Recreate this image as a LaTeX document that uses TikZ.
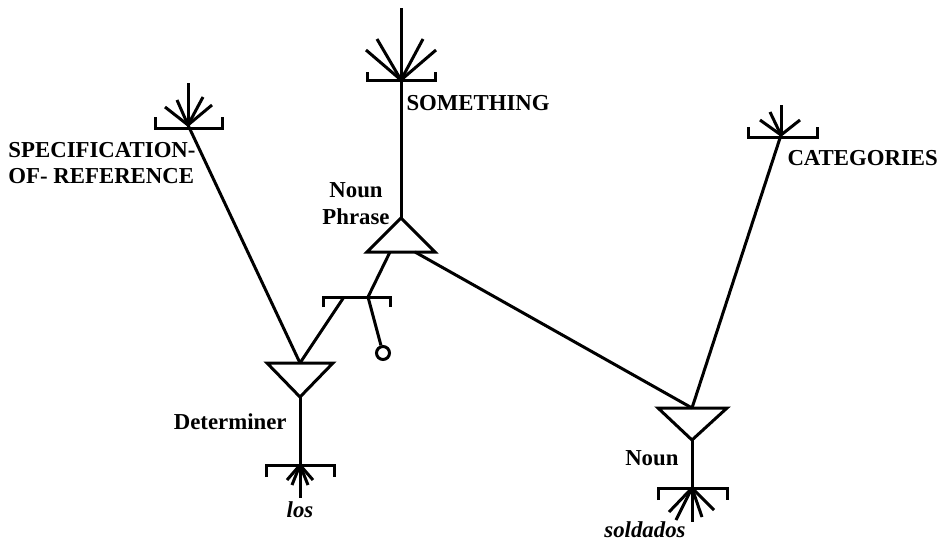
\documentclass[tikz,border=0pt]{standalone}
\usepackage{fontspec}
\setmainfont{Liberation Serif}
\begin{document}
\begin{tikzpicture}[x=0.5pt, y=-0.5pt, line width=1.5pt,
        lbl/.style={font=\bfseries\fontsize{11.4}{13.5}\selectfont, inner sep=0pt},
        word/.style={font=\bfseries\itshape\fontsize{11.4}{13.5}\selectfont, inner sep=0pt}]
    \useasboundingbox (0,0) rectangle (937,541);
    % fan centres
    \coordinate (something) at (401,80);
    \coordinate (spec) at (188,125);
    \coordinate (categ) at (781,135);
    \coordinate (los) at (300,465);
    \coordinate (soldados) at (692,488);
    % triangle corners
    \coordinate (np) at (401,218);
    \coordinate (npA) at (390,252);
    \coordinate (npB) at (415,252);
    \coordinate (det) at (300,363);
    \coordinate (detTip) at (300,397);
    \coordinate (noun) at (692,408);
    \coordinate (nounTip) at (692,440);
    \coordinate (top) at (401,8);
    % bracket under the noun phrase
    \coordinate (jl) at (344,297);
    \coordinate (jr) at (368,297);
    \node[circle, draw, minimum size=6.5pt, inner sep=0pt] (stop) at (383,353) {};

    \draw (np) -- (435,252) -- (367,252) -- cycle;
    \draw (267,363) -- (333,363) -- (detTip) -- cycle;
    \draw (658,408) -- (727,408) -- (nounTip) -- cycle;
    \draw (323,307) -- (323,297) -- (390,297) -- (390,307);

    \draw (np) -- (top);
    \draw (spec) -- (det);
    \draw (categ) -- (noun);
    \draw (npB) -- (noun);
    \draw (npA) -- (jr);
    \draw (jl) -- (det);
    \draw (jr) -- (stop);
    \draw (detTip) -- (los);
    \draw (nounTip) -- (soldados);

    % fans
    \draw (367,72) -- (367,80) -- (435,80) -- (435,72);
    \foreach \dx/\dy in {-35/-30,-24/-41,22/-41,35/-30}
        \draw (something) -- ++(\dx,\dy);
    \draw (155,117) -- (155,128) -- (222,128) -- (222,117);
    \foreach \dx/\dy in {-23/-18,-11/-25,0/-42,15/-28,24/-20}
        \draw (spec) -- ++(\dx,\dy);
    \draw (748,127) -- (748,137) -- (817,137) -- (817,127);
    \foreach \dx/\dy in {-21/-15,-11/-23,0/-30,19/-15}
        \draw (categ) -- ++(\dx,\dy);
    \draw (266,477) -- (266,465) -- (334,465) -- (334,477);
    \foreach \dx/\dy in {-13/15,-8/20,0/33,8/20,13/15}
        \draw (los) -- ++(\dx,\dy);
    \draw (658,500) -- (658,488) -- (727,488) -- (727,500);
    \foreach \dx/\dy in {-23/24,-16/32,0/34,10/29,22/22}
        \draw (soldados) -- ++(\dx,\dy);

    % labels
    \node[lbl, anchor=base west] (somethingL) at (405,110) {SOMETHING};
    \node[lbl, anchor=base west] (specL) at (7,157) {SPECIFICATION-};
    \node[lbl, anchor=base west] (refL) at (7,183) {OF- REFERENCE};
    \node[lbl, anchor=base] (nounL) at (356,197) {Noun};
    \node[lbl, anchor=base] (phraseL) at (356,224) {Phrase};
    \node[lbl, anchor=base west] (categL) at (786,165) {CATEGORIES};
    \node[lbl, anchor=base east] (detL) at (288,429) {Determiner};
    \node[lbl, anchor=base east] (nL) at (680,465) {Noun};
    \node[word, anchor=base] (losL) at (300,517) {los};
    \node[word, anchor=base] (soldL) at (645,537) {soldados};
\end{tikzpicture}
\end{document}
